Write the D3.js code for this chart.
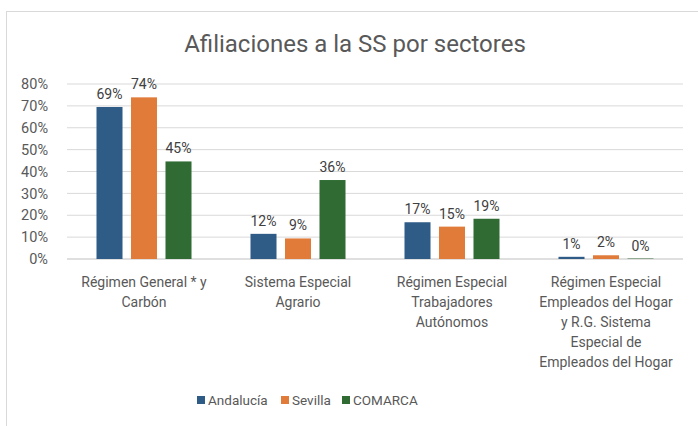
<!DOCTYPE html>
<html>
<head>
<meta charset="utf-8">
<script src="https://cdn.jsdelivr.net/npm/d3@7"></script>
<style>
  body { margin: 0; background: #fff; }
  svg { display: block; font-family: Roboto, "Noto Sans", sans-serif; }
</style>
</head>
<body>
<div id="chart"></div>
<script>
const categories = [
  ["Régimen General * y", "Carbón"],
  ["Sistema Especial", "Agrario"],
  ["Régimen Especial", "Trabajadores", "Autónomos"],
  ["Régimen Especial", "Empleados del Hogar", "y R.G. Sistema", "Especial de", "Empleados del Hogar"]
]
const seriesNames = ["Andalucía", "Sevilla", "COMARCA"]
// values (percent)
const valuesAndalucia = [69.5, 11.5, 16.8, 1.0]
const valuesSevilla = [73.9, 9.4, 14.8, 1.7]
const valuesComarca = [44.6, 36.1, 18.4, 0.2]
const labelsAndalucia = ["69%", "12%", "17%", "1%"]
const labelsSevilla = ["74%", "9%", "15%", "2%"]
const labelsComarca = ["45%", "36%", "19%", "0%"]
const yTicks = [0, 10, 20, 30, 40, 50, 60, 70, 80]
const colors = ["#2e5c87", "#e07b39", "#2f6b33"]

const width = 698, height = 426
const margin = {top: 84, right: 15, bottom: 167, left: 67}

const svg = d3.select("#chart").append("svg")
  .attr("width", width).attr("height", height)

// chart frame (only top and left edges show in the picture)
svg.append("rect")
  .attr("x", 6.5).attr("y", 11.5)
  .attr("width", width + 20).attr("height", height + 20)
  .attr("fill", "none").attr("stroke", "#d9d9d9")

const x0 = d3.scaleBand()
  .domain(d3.range(categories.length))
  .range([margin.left, width - margin.right])

const x1 = d3.scaleBand()
  .domain(d3.range(seriesNames.length))
  .range([0, x0.bandwidth()])
  .paddingInner(0.246)
  .paddingOuter(0.855)

const y = d3.scaleLinear()
  .domain([0, 80])
  .range([height - margin.bottom, margin.top])

// gridlines
svg.append("g")
  .selectAll("line")
  .data(yTicks)
  .join("line")
  .attr("x1", margin.left).attr("x2", width - margin.right)
  .attr("y1", d => y(d)).attr("y2", d => y(d))
  .attr("stroke", d => d == 0 ? "#bfbfbf" : "#d9d9d9")
  .attr("stroke-width", 1)

// y axis labels
svg.append("g")
  .attr("transform", `translate(${margin.left - 16},0)`)
  .call(d3.axisLeft(y).tickValues(yTicks).tickFormat(d => d + "%").tickSize(0))
  .call(g => g.select(".domain").remove())
  .call(g => g.selectAll("text")
    .attr("font-family", "Roboto, sans-serif")
    .attr("fill", "#595959").attr("font-size", 14.5))

const series = [valuesAndalucia, valuesSevilla, valuesComarca]
const labels = [labelsAndalucia, labelsSevilla, labelsComarca]

const groups = svg.append("g")
  .selectAll("g")
  .data(categories)
  .join("g")
  .attr("transform", (d, i) => `translate(${x0(i)},0)`)

groups.selectAll("rect")
  .data((d, i) => series.map((s, j) => ({s: j, v: s[i], label: labels[j][i]})))
  .join("rect")
  .attr("x", d => x1(d.s))
  .attr("width", x1.bandwidth())
  .attr("y", d => y(d.v))
  .attr("height", d => y(0) - y(d.v))
  .attr("fill", d => colors[d.s])

groups.selectAll("text.val")
  .data((d, i) => series.map((s, j) => ({s: j, v: s[i], label: labels[j][i]})))
  .join("text")
  .attr("class", "val")
  .attr("x", d => x1(d.s) + x1.bandwidth() / 2)
  .attr("y", d => y(d.v) - 8)
  .attr("text-anchor", "middle")
  .attr("font-size", 14)
  .attr("fill", "#404040")
  .text(d => d.label)

// category labels
svg.append("g")
  .selectAll("text")
  .data(categories)
  .join("text")
  .attr("text-anchor", "middle")
  .attr("font-size", 14)
  .attr("fill", "#595959")
  .attr("x", (d, i) => x0(i) + x0.bandwidth() / 2)
  .attr("y", y(0) + 28)
  .selectAll("tspan")
  .data(d => d)
  .join("tspan")
  .attr("x", function() { return this.parentNode.getAttribute("x") })
  .attr("dy", (d, i) => i == 0 ? 0 : 20)
  .text(d => d)

// title
svg.append("text")
  .attr("x", 355).attr("y", 52)
  .attr("text-anchor", "middle")
  .attr("font-size", 24)
  .attr("fill", "#595959")
  .text("Afiliaciones a la SS por sectores")

// legend
const legendX = [197, 281, 342]
const legend = svg.append("g")
  .selectAll("g")
  .data(seriesNames)
  .join("g")
  .attr("transform", (d, i) => `translate(${legendX[i]},405)`)
legend.append("rect")
  .attr("x", 0).attr("y", -9)
  .attr("width", 8).attr("height", 8)
  .attr("fill", (d, i) => colors[i])
legend.append("text")
  .attr("x", 11).attr("y", 0)
  .attr("font-size", 13.5)
  .attr("fill", "#595959")
  .text(d => d)
</script>
</body>
</html>
